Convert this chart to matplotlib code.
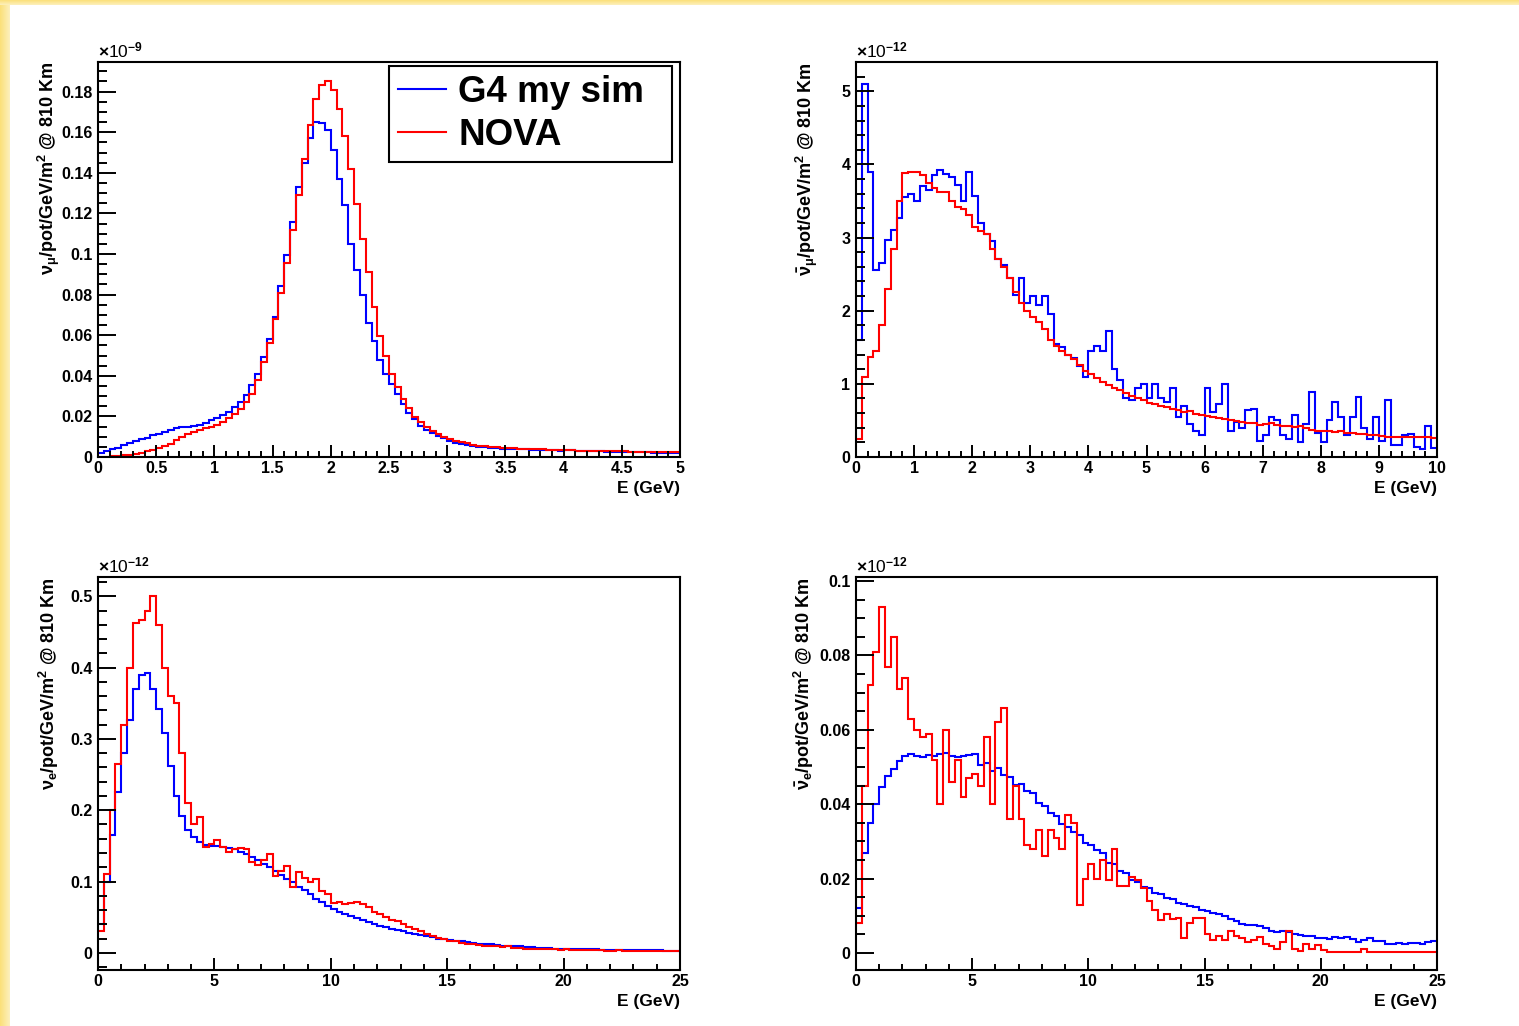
import numpy as np
import matplotlib

matplotlib.use("Agg")
import matplotlib.pyplot as plt
from matplotlib.lines import Line2D
from matplotlib.ticker import MultipleLocator, FuncFormatter
from matplotlib.colors import LinearSegmentedColormap

# ---- data: flux per bin ----
# nu_mu, 0-5 GeV, 0.05 GeV bins, units 1e-9
numu_g4 = [0.002, 0.003, 0.0041, 0.0046, 0.0058, 0.0069, 0.0077, 0.0087, 0.0095, 0.0107,
           0.0115, 0.0123, 0.0135, 0.0143, 0.0148, 0.0148, 0.0151, 0.0156, 0.0168, 0.0181,
           0.019, 0.0206, 0.0222, 0.0247, 0.0271, 0.0304, 0.0353, 0.041, 0.0495, 0.0582,
           0.0689, 0.084, 0.0996, 0.116, 0.133, 0.145, 0.157, 0.165, 0.1645, 0.161,
           0.151, 0.137, 0.124, 0.105, 0.092, 0.080, 0.066, 0.057, 0.048, 0.041,
           0.036, 0.031, 0.026, 0.0215, 0.0186, 0.0153, 0.0133, 0.0117, 0.0104, 0.0092,
           0.008, 0.007, 0.0064, 0.0059, 0.0054, 0.0050, 0.0047, 0.0045, 0.0043, 0.0041,
           0.0040, 0.0039, 0.0038, 0.0037, 0.0036, 0.0035, 0.0034, 0.0034, 0.0033, 0.0032,
           0.0035, 0.0033, 0.0031, 0.0030, 0.0029, 0.0028, 0.0028, 0.0027, 0.0026, 0.0026,
           0.0025, 0.0025, 0.0024, 0.0023, 0.0023, 0.0022, 0.0022, 0.0021, 0.0021, 0.0020]
numu_nova = [0.0001, 0.0002, 0.0004, 0.0006, 0.0008, 0.0012, 0.0016, 0.002, 0.0028, 0.0035,
             0.0045, 0.0052, 0.0066, 0.0082, 0.0098, 0.0112, 0.0125, 0.0135, 0.0142, 0.0148,
             0.0156, 0.0172, 0.019, 0.021, 0.0238, 0.027, 0.031, 0.0377, 0.0467, 0.056,
             0.068, 0.0807, 0.0955, 0.1116, 0.129, 0.147, 0.1637, 0.1763, 0.1834, 0.1854,
             0.181, 0.1714, 0.158, 0.1418, 0.1246, 0.1075, 0.091, 0.0741, 0.0598, 0.0498,
             0.0409, 0.0344, 0.0284, 0.024, 0.0199, 0.0174, 0.0149, 0.013, 0.0113, 0.010,
             0.009, 0.008, 0.0074, 0.0068, 0.006, 0.0056, 0.0053, 0.0050, 0.0048, 0.0046,
             0.0044, 0.0043, 0.0041, 0.0040, 0.0039, 0.0038, 0.0037, 0.0036, 0.0035, 0.0034,
             0.0033, 0.0033, 0.0032, 0.0031, 0.0031, 0.0030, 0.0030, 0.0029, 0.0029, 0.0028,
             0.0028, 0.0027, 0.0027, 0.0026, 0.0026, 0.0025, 0.0025, 0.0024, 0.0024, 0.0023]

# anti nu_mu, 0-10 GeV, 0.1 GeV bins, units 1e-12
anumu_g4 = [1.6, 5.1, 3.9, 2.55, 2.65, 2.97, 3.1, 3.27, 3.55, 3.6,
            3.5, 3.71, 3.65, 3.85, 3.92, 3.87, 3.83, 3.72, 3.5, 3.9,
            3.57, 3.2, 3.05, 2.95, 2.7, 2.63, 2.45, 2.22, 2.45, 2.1,
            2.2, 2.08, 2.2, 1.95, 1.55, 1.5, 1.4, 1.35, 1.25, 1.1,
            1.45, 1.52, 1.45, 1.72, 1.2, 1.05, 0.8, 0.78, 0.95, 1.0,
            0.8, 1.0, 0.8, 0.75, 0.95, 0.55, 0.7, 0.45, 0.35, 0.3,
            0.95, 0.62, 0.72, 1.0, 0.35, 0.48, 0.4, 0.64, 0.66, 0.22,
            0.3, 0.55, 0.5, 0.3, 0.25, 0.57, 0.2, 0.45, 0.89, 0.33,
            0.2, 0.5, 0.75, 0.55, 0.3, 0.55, 0.82, 0.4, 0.25, 0.55,
            0.22, 0.78, 0.16, 0.17, 0.3, 0.32, 0.14, 0.11, 0.43, 0.12]
anumu_nova = [0.25, 1.1, 1.37, 1.45, 1.8, 2.3, 2.85, 3.5, 3.88, 3.9,
              3.89, 3.85, 3.75, 3.68, 3.62, 3.62, 3.5, 3.42, 3.39, 3.31,
              3.14, 3.09, 3.05, 2.85, 2.7, 2.6, 2.45, 2.25, 2.1, 2.0,
              1.92, 1.85, 1.75, 1.6, 1.52, 1.45, 1.4, 1.34, 1.26, 1.18,
              1.13, 1.08, 1.03, 0.99, 0.95, 0.91, 0.88, 0.84, 0.80, 0.78,
              0.74, 0.72, 0.70, 0.68, 0.66, 0.64, 0.62, 0.63, 0.59, 0.57,
              0.56, 0.55, 0.53, 0.52, 0.51, 0.49, 0.48, 0.47, 0.46, 0.44,
              0.45, 0.47, 0.44, 0.43, 0.42, 0.41, 0.42, 0.39, 0.37, 0.36,
              0.35, 0.35, 0.34, 0.35, 0.33, 0.33, 0.32, 0.31, 0.30, 0.30,
              0.29, 0.28, 0.28, 0.27, 0.27, 0.27, 0.28, 0.28, 0.28, 0.26]

# nu_e, 0-25 GeV, 0.25 GeV bins, units 1e-12
nue_g4 = [0.04, 0.1, 0.165, 0.225, 0.28, 0.327, 0.37, 0.39, 0.392, 0.37,
          0.342, 0.308, 0.262, 0.22, 0.192, 0.172, 0.162, 0.155, 0.151, 0.15,
          0.15, 0.149, 0.147, 0.145, 0.142, 0.138, 0.134, 0.13, 0.125, 0.12,
          0.115, 0.109, 0.104, 0.099, 0.093, 0.088, 0.082, 0.076, 0.071, 0.066,
          0.062, 0.058, 0.055, 0.052, 0.049, 0.046, 0.043, 0.041, 0.038, 0.036,
          0.034, 0.032, 0.030, 0.028, 0.026, 0.025, 0.023, 0.022, 0.020, 0.019,
          0.018, 0.017, 0.016, 0.015, 0.014, 0.013, 0.012, 0.012, 0.011, 0.010,
          0.010, 0.009, 0.009, 0.008, 0.008, 0.007, 0.007, 0.007, 0.006, 0.006,
          0.006, 0.0055, 0.0055, 0.005, 0.005, 0.005, 0.0045, 0.0045, 0.0045, 0.004,
          0.004, 0.004, 0.004, 0.0035, 0.0035, 0.0035, 0.0035, 0.003, 0.003, 0.003]
nue_nova = [0.03, 0.11, 0.2, 0.265, 0.32, 0.40, 0.462, 0.467, 0.48, 0.50,
            0.46, 0.40, 0.36, 0.35, 0.28, 0.21, 0.18, 0.19, 0.148, 0.152,
            0.158, 0.148, 0.142, 0.146, 0.147, 0.146, 0.128, 0.123, 0.13, 0.138,
            0.108, 0.115, 0.122, 0.092, 0.113, 0.105, 0.099, 0.103, 0.087, 0.083,
            0.07, 0.072, 0.068, 0.07, 0.072, 0.068, 0.064, 0.058, 0.054, 0.05,
            0.046, 0.044, 0.04, 0.036, 0.033, 0.03, 0.026, 0.024, 0.021, 0.02,
            0.017, 0.016, 0.014, 0.013, 0.012, 0.011, 0.01, 0.01, 0.009, 0.008,
            0.009, 0.007, 0.007, 0.006, 0.006, 0.006, 0.005, 0.005, 0.005, 0.004,
            0.005, 0.004, 0.004, 0.004, 0.004, 0.004, 0.004, 0.003, 0.003, 0.004,
            0.003, 0.003, 0.003, 0.003, 0.003, 0.002, 0.003, 0.002, 0.002, 0.002]

# anti nu_e, 0-25 GeV, 0.25 GeV bins, units 1e-12
anue_g4 = [0.012, 0.027, 0.035, 0.04, 0.0445, 0.0475, 0.0495, 0.0515, 0.053, 0.0535,
           0.053, 0.0528, 0.0533, 0.053, 0.0535, 0.0538, 0.053, 0.0528, 0.053, 0.0532,
           0.0535, 0.0505, 0.0512, 0.0488, 0.0498, 0.0478, 0.0472, 0.0452, 0.0455, 0.0435,
           0.043, 0.0402, 0.0395, 0.0375, 0.0368, 0.0348, 0.0338, 0.0325, 0.0318, 0.0295,
           0.029, 0.0278, 0.0268, 0.0242, 0.0238, 0.022, 0.0214, 0.0195, 0.019, 0.0178,
           0.0175, 0.016, 0.0158, 0.0148, 0.0146, 0.0134, 0.0132, 0.0125, 0.0124, 0.0116,
           0.0113, 0.0108, 0.0104, 0.0099, 0.0092, 0.0085, 0.0079, 0.0076, 0.0075, 0.0071,
           0.0067, 0.006, 0.0055, 0.0058, 0.0056, 0.0052, 0.0048, 0.0046, 0.0045, 0.0041,
           0.004, 0.0037, 0.0042, 0.0039, 0.0043, 0.0037, 0.0029, 0.0036, 0.004, 0.0033,
           0.0031, 0.0025, 0.0023, 0.0027, 0.0024, 0.0026, 0.0027, 0.0024, 0.0028, 0.0032]
anue_nova = [0.008, 0.045, 0.072, 0.081, 0.093, 0.077, 0.085, 0.071, 0.074, 0.063,
             0.06, 0.058, 0.059, 0.052, 0.04, 0.06, 0.046, 0.052, 0.042, 0.047,
             0.048, 0.045, 0.058, 0.04, 0.062, 0.066, 0.036, 0.045, 0.036, 0.029,
             0.028, 0.033, 0.026, 0.033, 0.031, 0.028, 0.037, 0.035, 0.013, 0.02,
             0.024, 0.02, 0.025, 0.0197, 0.028, 0.018, 0.018, 0.0205, 0.0195, 0.0175,
             0.014, 0.0115, 0.0088, 0.0105, 0.009, 0.0095, 0.004, 0.008, 0.0095, 0.0095,
             0.005, 0.0035, 0.0045, 0.0035, 0.006, 0.0045, 0.004, 0.003, 0.0035, 0.0042,
             0.0025, 0.0018, 0.001, 0.003, 0.006, 0.001, 0.0005, 0.0025, 0.001, 0.002,
             0.0008, 0.0002, 0.0002, 0.0002, 0.0002, 0.0002, 0.0002, 0.001, 0.0002, 0.0002,
             0.0002, 0.0002, 0.0002, 0.0002, 0.0002, 0.0002, 0.0002, 0.0002, 0.0002, 0.0002]

LEGEND = ["G4 my sim", "NOVA"]
BLUE, RED = "#0000ff", "#ff0000"

plt.rcParams.update({
    "font.family": ["Liberation Sans", "DejaVu Sans"],
    "font.weight": "bold",
    "mathtext.fontset": "custom",
    "mathtext.rm": "Liberation Sans",
    "mathtext.it": "Liberation Sans",
    "mathtext.bf": "Liberation Sans:bold",
})

W, H = 1519, 1026
fig = plt.figure(figsize=(W / 100, H / 100), dpi=100)


def px_rect(left, top, right, bottom):
    return [left / W, 1 - bottom / H, (right - left) / W, (bottom - top) / H]


# yellow slide border on the left and top
cmap = LinearSegmentedColormap.from_list("slide", ["#fbe07a", "#fdf0bc"])
strip = fig.add_axes(px_rect(0, 0, 10, H), zorder=-5)
strip.imshow(np.linspace(0, 1, 20)[None, :], aspect="auto", cmap=cmap)
strip.axis("off")
top = fig.add_axes(px_rect(0, 0, W, 5), zorder=-5)
top.imshow(np.linspace(0.4, 1, 20)[:, None], aspect="auto", cmap=cmap)
top.axis("off")

fmt = FuncFormatter(lambda v, p: f"{v:g}")


def panel(rect, e_max, g4, nova, ylim, xmaj, xmin, ymaj, ymin, ylabel, expo, ylab_dx):
    ax = fig.add_axes(rect)
    edges = np.linspace(0, e_max, len(g4) + 1)
    ax.stairs(g4, edges, baseline=None, color=BLUE, lw=1.5)
    ax.stairs(nova, edges, baseline=None, color=RED, lw=1.5)
    ax.set_xlim(0, e_max)
    ax.set_ylim(*ylim)
    ax.xaxis.set_major_locator(MultipleLocator(xmaj))
    ax.xaxis.set_minor_locator(MultipleLocator(xmin))
    ax.yaxis.set_major_locator(MultipleLocator(ymaj))
    ax.yaxis.set_minor_locator(MultipleLocator(ymin))
    ax.xaxis.set_major_formatter(fmt)
    ax.yaxis.set_major_formatter(fmt)
    ax.tick_params(which="both", direction="in", top=False, right=False,
                   width=1.4, labelsize=11.5)
    ax.tick_params(axis="y", which="major", length=13, pad=4)
    ax.tick_params(axis="y", which="minor", length=6.5)
    ax.tick_params(axis="x", which="major", length=8.6, pad=3)
    ax.tick_params(axis="x", which="minor", length=4.3)
    for s in ax.spines.values():
        s.set_linewidth(1.5)
    ax.text(1.0, -0.062, "E (GeV)", transform=ax.transAxes, ha="right", va="top",
            fontsize=12.5)
    ax.text(ylab_dx, 1.0, ylabel, transform=ax.transAxes, rotation=90,
            ha="center", va="top", fontsize=13)
    ax.text(0.0, 1.004, r"$\times$10$^{%s}$" % expo, transform=ax.transAxes,
            ha="left", va="bottom", fontsize=12.5, fontweight="normal")
    return ax


ax1 = panel(px_rect(98, 62, 680, 457), 5, numu_g4, numu_nova, (0, 0.1946),
            0.5, 0.1, 0.02, 0.005,
            r"$\nu_{\mu}$/pot/GeV/m$^{\mathbf{2}}$ @ 810 Km", "-9", -0.084)
ax2 = panel(px_rect(856, 62, 1437, 457), 10, anumu_g4, anumu_nova, (0, 5.4),
            1, 0.2, 1, 0.2,
            r"$\bar{\nu}_{\mu}$/pot/GeV/m$^{\mathbf{2}}$ @ 810 Km", "-12", -0.085)
ax3 = panel(px_rect(98, 577, 680, 970), 25, nue_g4, nue_nova, (-0.024, 0.527),
            5, 1, 0.1, 0.02,
            r"$\nu_{e}$/pot/GeV/m$^{\mathbf{2}}$ @ 810 Km", "-12", -0.084)
ax4 = panel(px_rect(856, 577, 1437, 970), 25, anue_g4, anue_nova, (-0.0046, 0.1011),
            5, 1, 0.02, 0.005,
            r"$\bar{\nu}_{e}$/pot/GeV/m$^{\mathbf{2}}$ @ 810 Km", "-12", -0.089)

handles = [Line2D([], [], color=BLUE, lw=1.5), Line2D([], [], color=RED, lw=1.5)]
leg = ax1.legend(handles, LEGEND, loc="upper left", mode="expand",
                 bbox_to_anchor=(0.4998, 0.752, 0.486, 0.238), borderaxespad=0,
                 prop={"weight": "bold", "size": 26.5},
                 handlelength=1.3, handletextpad=0.33, borderpad=0.25,
                 labelspacing=0.2, fancybox=False, framealpha=1, edgecolor="black")
leg.get_frame().set_linewidth(1.5)

fig.savefig("out.png", dpi=100)
